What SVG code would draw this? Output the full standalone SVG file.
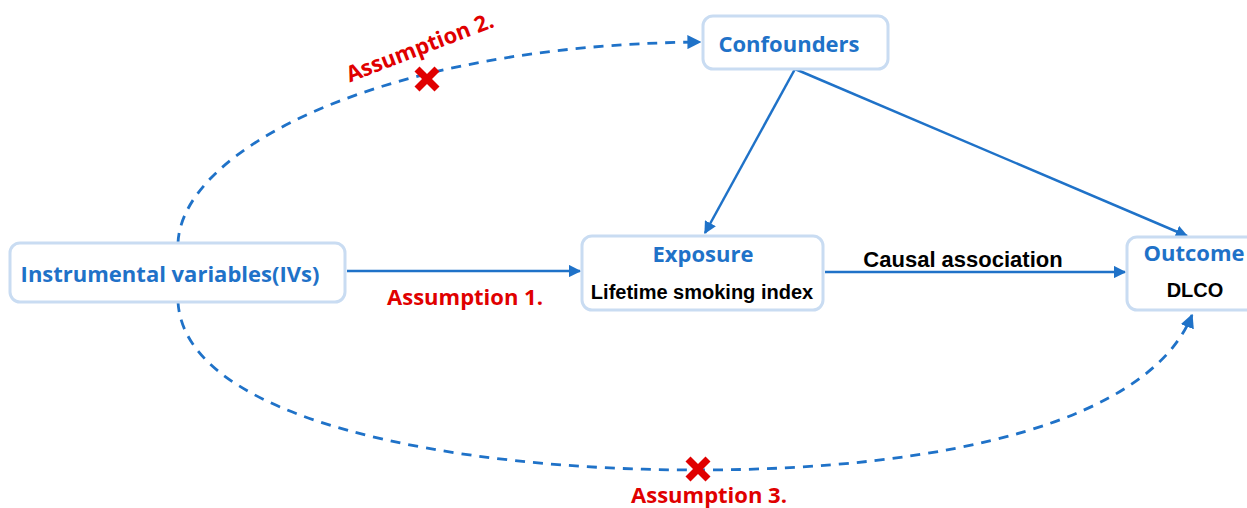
<svg xmlns="http://www.w3.org/2000/svg" width="1247" height="508" viewBox="0 0 1247 508">
<defs>
<style>
.box{fill:#fff;stroke:#c9dcf2;stroke-width:3}
.bt{font-family:"Open Sans","Liberation Sans",sans-serif;font-weight:bold;fill:#1f72c8;text-anchor:middle;font-size:22px}
.kt{font-family:"Liberation Sans",Arial,sans-serif;font-weight:bold;fill:#000;text-anchor:middle}
.rt{font-family:"Open Sans","Liberation Sans",sans-serif;font-weight:bold;fill:#e00000;text-anchor:middle;font-size:22px}
.ln{fill:none;stroke:#1f72c8;stroke-width:2.5}
.dash{fill:none;stroke:#1f72c8;stroke-width:2.8;stroke-dasharray:10 8}
.x{stroke:#e00000;stroke-width:7;stroke-linecap:butt}
</style>
<marker id="ah" viewBox="0 0 10 10" refX="9" refY="5" markerWidth="5" markerHeight="5" orient="auto" markerUnits="strokeWidth">
<path d="M0,0L10,5L0,10z" fill="#1f72c8"/>
</marker>
</defs>
<g id="connectors">
<path class="dash" d="M178,243 C182,150 380,45 700,42" marker-end="url(#ah)"/>
<path class="dash" d="M178,302 C185,420 450,470 697,470 C950,470 1150,420 1192,315" marker-end="url(#ah)"/>
<line class="ln" x1="347" y1="271" x2="580" y2="271" marker-end="url(#ah)"/>
<line class="ln" x1="825" y1="272" x2="1125" y2="272" marker-end="url(#ah)"/>
<line class="ln" x1="795" y1="69" x2="705" y2="233" marker-end="url(#ah)"/>
<line class="ln" x1="795" y1="69" x2="1187" y2="236" marker-end="url(#ah)"/>
<text class="kt" x="963" y="267" font-size="22">Causal association</text>
<text class="rt" x="465" y="305">Assumption 1.</text>
<text class="rt" x="420" y="55" transform="rotate(-21 420 48)">Assumption 2.</text>
<text class="rt" x="709" y="503">Assumption 3.</text>
<g id="cross2"><line class="x" x1="417" y1="69" x2="437" y2="89"/><line class="x" x1="437" y1="69" x2="417" y2="89"/></g>
<g id="cross3"><line class="x" x1="688" y1="459" x2="708" y2="479"/><line class="x" x1="708" y1="459" x2="688" y2="479"/></g>
</g>
<g id="ivs">
<rect class="box" x="10" y="243" width="335" height="59" rx="10"/>
<text class="bt" x="170" y="282">Instrumental variables(IVs)</text>
</g>
<g id="exposure">
<rect class="box" x="582" y="236" width="241" height="74" rx="10"/>
<text class="bt" x="703" y="262" font-size="24">Exposure</text>
<text class="kt" x="702" y="299" font-size="20">Lifetime smoking index</text>
</g>
<g id="outcome">
<rect class="box" x="1127" y="237" width="130" height="73" rx="10"/>
<text class="bt" x="1194" y="261">Outcome</text>
<text class="kt" x="1195" y="297" font-size="20">DLCO</text>
</g>
<g id="confounders">
<rect class="box" x="703" y="16" width="185" height="53" rx="10"/>
<text class="bt" x="789" y="52">Confounders</text>
</g>
</svg>
